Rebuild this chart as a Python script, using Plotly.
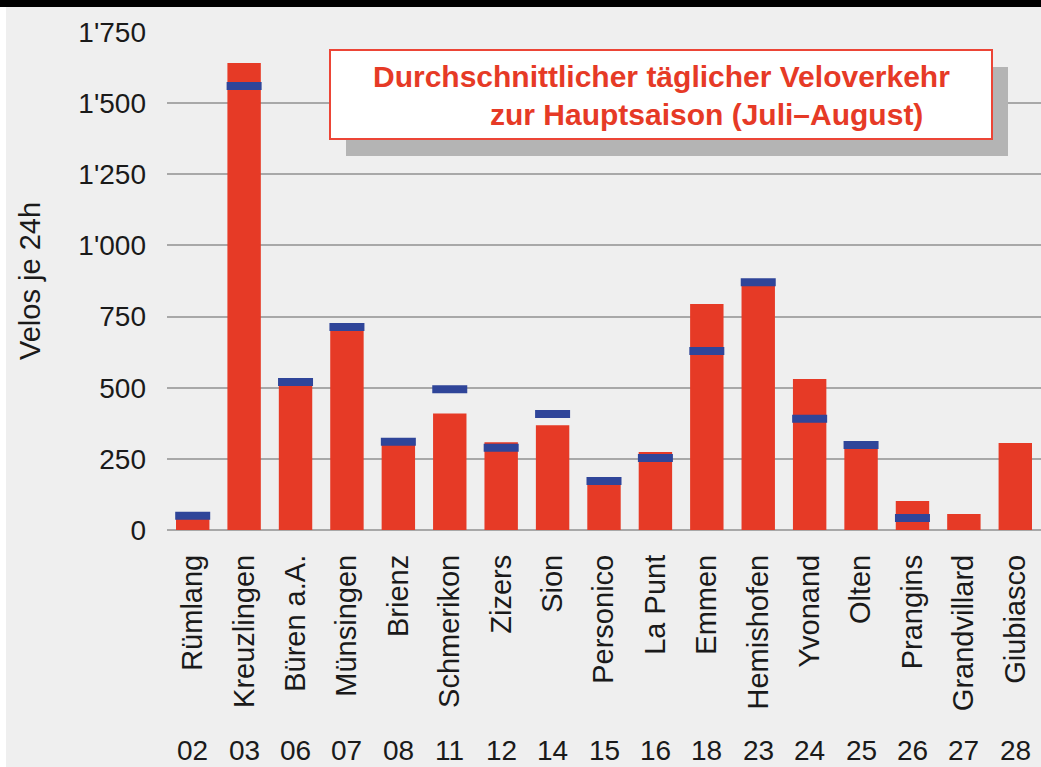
import plotly.graph_objects as go

# Daten: Standorte, Zählstellen-Nummern, Mittelwerte
standorte = ["Rümlang", "Kreuzlingen", "Büren a.A.", "Münsingen", "Brienz", "Schmerikon",
             "Zizers", "Sion", "Personico", "La Punt", "Emmen", "Hemishofen", "Yvonand",
             "Olten", "Prangins", "Grandvillard", "Giubiasco"]
nummern = ["02", "03", "06", "07", "08", "11", "12", "14", "15", "16", "18", "23", "24",
           "25", "26", "27", "28"]
velos_saison = [53, 1641, 534, 717, 304, 409, 308, 368, 172, 274, 794, 864, 531, 309, 102, 56, 306]
velos_blau = [50, 1560, 520, 713, 310, 495, 289, 408, 172, 253, 629, 871, 391, 299, 42, None, None]

y_ticks = [0, 250, 500, 750, 1000, 1250, 1500, 1750]
y_ticktext = ["0", "250", "500", "750", "1'000", "1'250", "1'500", "1'750"]

# Pixel-Geometrie des Plotbereichs
L, R, T, B = 167, 1041, 32, 530
W, H = 1041, 767


def px_x(px):
    return (px - L) / (R - L)


def px_y(py):
    return (B - py) / (B - T)


fig = go.Figure()

fig.add_trace(go.Bar(
    x=standorte,
    y=velos_saison,
    marker=dict(color="#e63a26", line=dict(width=0)),
    hoverinfo="skip"
))

fig.add_trace(go.Scatter(
    x=standorte,
    y=velos_blau,
    mode="markers",
    marker=dict(symbol="line-ew", size=25, line=dict(width=8, color="#2f4599")),
    hoverinfo="skip"
))

annotations = []
for name, nr in zip(standorte, nummern):
    annotations.append(dict(
        x=name, y=px_y(750), xref="x", yref="paper", text=nr, showarrow=False,
        font=dict(size=28, color="#1a1a1a"), xanchor="center", yanchor="middle"
    ))

# Achsentitel
annotations.append(dict(
    x=px_x(30), y=px_y(281), xref="paper", yref="paper", text="Velos je 24h",
    textangle=-90, showarrow=False, font=dict(size=29, color="#1a1a1a"),
    xanchor="center", yanchor="middle"
))

# Titel in Box
annotations.append(dict(
    x=px_x(661), y=px_y(76), xref="paper", yref="paper",
    text="<b>Durchschnittlicher täglicher Veloverkehr</b>", showarrow=False,
    font=dict(size=30, color="#e63a26"), xanchor="center", yanchor="middle"
))
annotations.append(dict(
    x=px_x(706), y=px_y(115), xref="paper", yref="paper",
    text="<b>zur Hauptsaison (Juli–August)</b>", showarrow=False,
    font=dict(size=30, color="#e63a26"), xanchor="center", yanchor="middle"
))

shapes = [
    # Schatten
    dict(type="rect", xref="paper", yref="paper", x0=px_x(346), x1=px_x(1008),
         y0=px_y(156), y1=px_y(67), fillcolor="#b4b4b4", line=dict(width=0), layer="above"),
    # Box
    dict(type="rect", xref="paper", yref="paper", x0=px_x(330), x1=px_x(992),
         y0=px_y(139), y1=px_y(50), fillcolor="white", line=dict(color="#ec4536", width=2),
         layer="above"),
    # schwarzer Rand oben
    dict(type="rect", xref="paper", yref="paper", x0=px_x(0), x1=px_x(W),
         y0=px_y(7), y1=px_y(0), fillcolor="black", line=dict(width=0), layer="above"),
    # weisser Rand links
    dict(type="rect", xref="paper", yref="paper", x0=px_x(0), x1=px_x(6),
         y0=px_y(H), y1=px_y(7), fillcolor="white", line=dict(width=0), layer="above"),
]

fig.update_layout(
    width=W,
    height=H,
    margin=dict(l=L, r=W - R, t=T, b=H - B),
    paper_bgcolor="#efefef",
    plot_bgcolor="#efefef",
    showlegend=False,
    bargap=0.35,
    font=dict(family="Liberation Sans, Arial, sans-serif", color="#1a1a1a"),
    annotations=annotations,
    shapes=shapes,
    xaxis=dict(
        range=[-0.5, len(standorte) - 0.5],
        tickangle=-90,
        tickfont=dict(size=29),
        showgrid=False,
        showline=False,
        ticks="",
        ticklabelstandoff=18,
    ),
    yaxis=dict(
        range=[0, 1750],
        tickvals=y_ticks,
        ticktext=y_ticktext,
        tickfont=dict(size=28),
        showgrid=True,
        gridcolor="#a8a8a8",
        gridwidth=2,
        zeroline=True,
        zerolinecolor="#a8a8a8",
        zerolinewidth=2,
        ticks="",
        ticklabelstandoff=20,
    ),
)

# Seitenrand des Browsers entfernen, damit die Grafik bei 0,0 beginnt
fig.write_html("out.html", config={"displayModeBar": False},
               post_script="document.body.style.margin='0';")
